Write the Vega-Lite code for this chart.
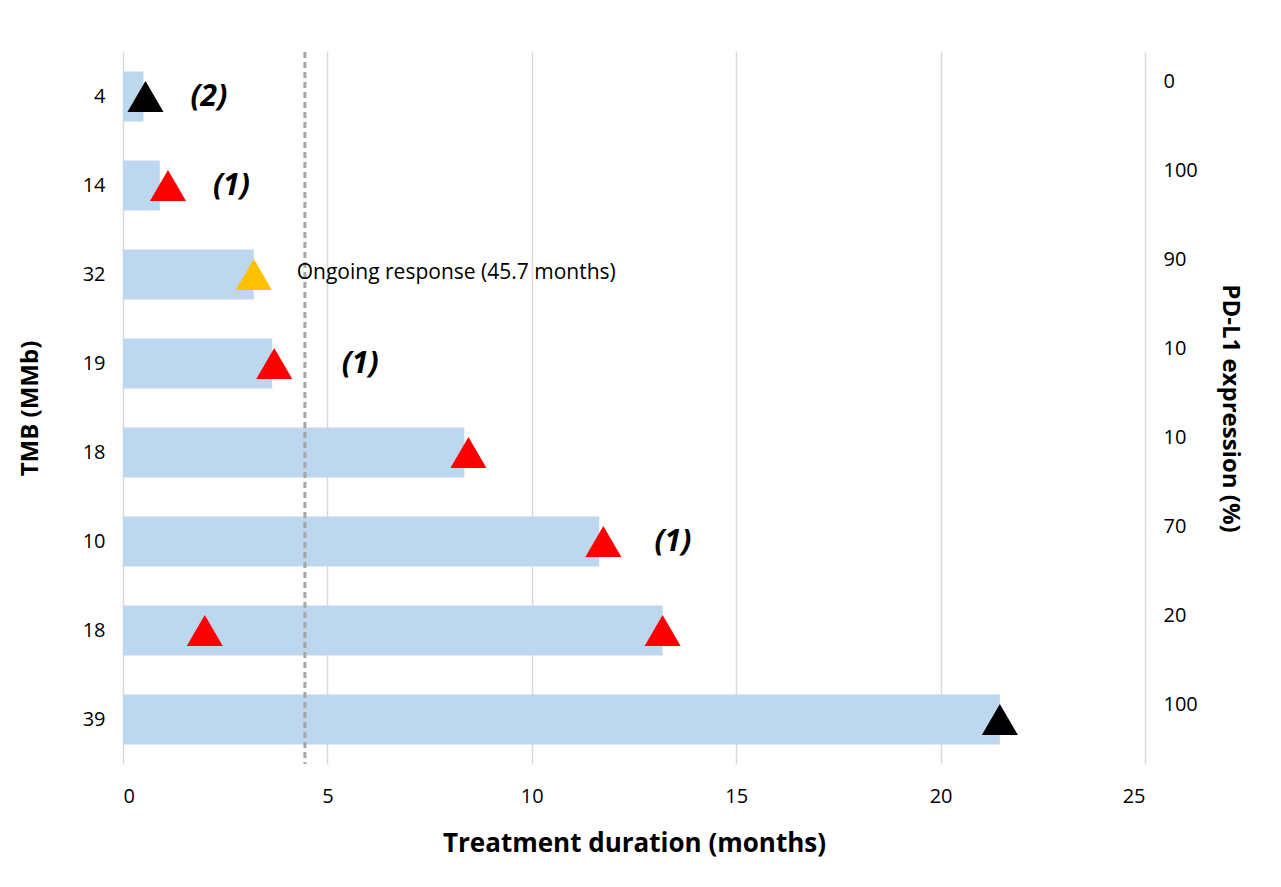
{
  "$schema": "https://vega.github.io/schema/vega-lite/v6.json",
  "width": 1022,
  "height": 712,
  "autosize": "none",
  "padding": {"left": 123, "top": 52, "right": 136, "bottom": 123},
  "config": {"view": {"stroke": null}, "font": "Open Sans", "scale": {"continuousPadding": 0}},
  "datasets": {
    "bars": [
      {"row": 1, "dur": 0.5},
      {"row": 2, "dur": 0.9},
      {"row": 3, "dur": 3.2},
      {"row": 4, "dur": 3.65},
      {"row": 5, "dur": 8.35},
      {"row": 6, "dur": 11.65},
      {"row": 7, "dur": 13.2},
      {"row": 8, "dur": 21.45}
    ],
    "marks": [
      {"row": 1, "x": 0.55, "kind": "black"},
      {"row": 2, "x": 1.1, "kind": "red"},
      {"row": 3, "x": 3.2, "kind": "gold"},
      {"row": 4, "x": 3.7, "kind": "red"},
      {"row": 5, "x": 8.45, "kind": "red"},
      {"row": 6, "x": 11.75, "kind": "red"},
      {"row": 7, "x": 2.0, "kind": "red"},
      {"row": 7, "x": 13.2, "kind": "red"},
      {"row": 8, "x": 21.45, "kind": "black"}
    ],
    "notes": [
      {"row": 1, "x": 1.65, "label": "(2)"},
      {"row": 2, "x": 2.2, "label": "(1)"},
      {"row": 4, "x": 5.35, "label": "(1)"},
      {"row": 6, "x": 13.0, "label": "(1)"}
    ]
  },
  "layer": [
    {
      "data": {"name": "bars"},
      "mark": {"type": "bar", "color": "#BDD7EE", "height": {"band": 0.56}},
      "encoding": {
        "y": {"field": "row", "type": "ordinal", "scale": {"domain": [1,2,3,4,5,6,7,8], "paddingInner": 0, "paddingOuter": 0},
          "axis": {"title": "TMB (MMb)", "titleFontSize": 24, "titleFontWeight": "bold", "titlePadding": 40,
            "labelExpr": "['4','14','32','19','18','10','18','39'][datum.value-1]",
            "labelFontSize": 20, "labelPadding": 18, "ticks": false, "domain": false, "labelColor": "#000", "titleColor": "#000"}},
        "x": {"field": "dur", "type": "quantitative", "scale": {"domain": [0, 25], "nice": false, "padding": 0},
          "axis": {"title": "Treatment duration (months)", "titleFontSize": 26, "titleFontWeight": "bold", "titlePadding": 24,
            "values": [0, 5, 10, 15, 20, 25], "labelFontSize": 20, "labelPadding": 22, "ticks": false, "domain": false,
            "gridColor": "#D9D9D9", "gridWidth": 1.5, "labelColor": "#000", "titleColor": "#000"}}
      }
    },
    {
      "data": {"values": [{"x": 4.45}]},
      "mark": {"type": "rule", "strokeDash": [6, 4], "color": "#A6A6A6", "strokeWidth": 3},
      "encoding": {"x": {"field": "x", "type": "quantitative"}}
    },
    {
      "data": {"name": "marks"},
      "mark": {"type": "point", "shape": "triangle-up", "filled": true, "size": 1300, "opacity": 1},
      "encoding": {
        "y": {"field": "row", "type": "ordinal", "scale": {"domain": [1,2,3,4,5,6,7,8], "paddingInner": 0, "paddingOuter": 0}, "axis": null},
        "x": {"field": "x", "type": "quantitative"},
        "color": {"field": "kind", "type": "nominal", "legend": null,
          "scale": {"domain": ["black", "red", "gold"], "range": ["#000000", "#FF0000", "#FFC000"]}}
      }
    },
    {
      "data": {"name": "notes"},
      "mark": {"type": "text", "fontSize": 30, "fontWeight": "bold", "fontStyle": "italic", "align": "left"},
      "encoding": {
        "y": {"field": "row", "type": "ordinal", "scale": {"domain": [1,2,3,4,5,6,7,8], "paddingInner": 0, "paddingOuter": 0}, "axis": null},
        "x": {"field": "x", "type": "quantitative"},
        "text": {"field": "label"}
      }
    },
    {
      "data": {"values": [{"row": 3, "x": 4.25, "label": "Ongoing response (45.7 months)"}]},
      "mark": {"type": "text", "fontSize": 21, "align": "left", "dy": -2},
      "encoding": {
        "y": {"field": "row", "type": "ordinal", "scale": {"domain": [1,2,3,4,5,6,7,8], "paddingInner": 0, "paddingOuter": 0}, "axis": null},
        "x": {"field": "x", "type": "quantitative"},
        "text": {"field": "label"}
      }
    },
    {
      "data": {"name": "bars"},
      "mark": {"type": "point", "opacity": 0},
      "encoding": {
        "y": {"field": "row", "type": "ordinal", "scale": {"domain": [1,2,3,4,5,6,7,8], "paddingInner": 0, "paddingOuter": 0},
          "axis": {"orient": "right", "title": "PD-L1 expression (%)", "titleFontSize": 24, "titleFontWeight": "bold", "titlePadding": 20,
            "labelExpr": "['0','100','90','10','10','70','20','100'][datum.value-1]",
            "labelFontSize": 20, "labelPadding": 18, "labelBaseline": "bottom", "labelOffset": -5, "ticks": false, "domain": false, "labelColor": "#000", "titleColor": "#000"}},
        "x": {"field": "dur", "type": "quantitative"}
      }
    }
  ],
  "resolve": {"scale": {"y": "independent"}, "axis": {"y": "independent"}}
}
